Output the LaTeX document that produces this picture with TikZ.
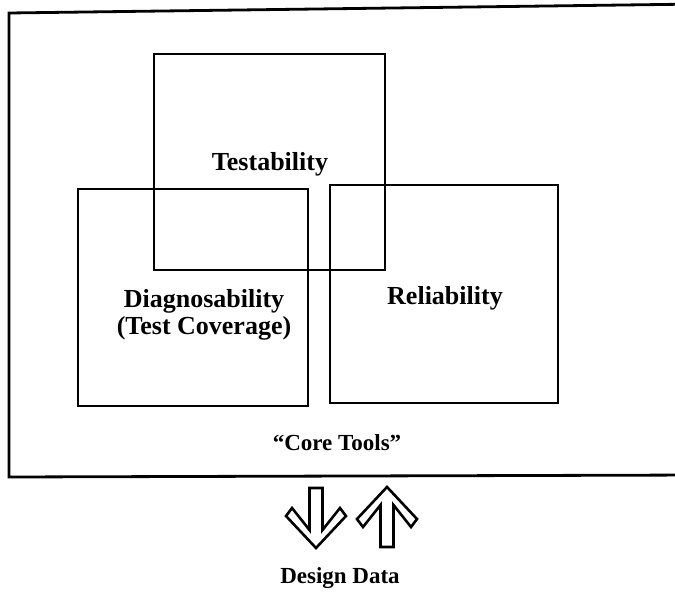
\documentclass[tikz,border=0pt]{standalone}
\usepackage{fontspec}
\setmainfont{Liberation Serif}
\begin{document}
\begin{tikzpicture}[x=1pt,y=-1pt,
  box/.style={draw,line width=2.8pt},
  lbl/.style={font=\fontsize{23}{28}\selectfont\bfseries,align=center,inner sep=0pt},
  blbl/.style={font=\fontsize{26}{27}\selectfont\bfseries,align=center,inner sep=0pt},
  hollow/.style={draw,line width=2.6pt,line join=miter,fill=white}]
\useasboundingbox (0,0) rectangle (675,597);
\clip (0,0) rectangle (675,597);
% outer box
\draw[box] (9,13) -- (700,4) -- (700,475) -- (9,477) -- cycle;
% boxes
\draw[box] (154,54) rectangle (385,270);
\draw[box] (78,189) rectangle (308,406);
\draw[box] (330,185) rectangle (558,403);
% labels
\node[blbl] (test) at (270,164) {Testability};
\node[blbl] (diag) at (204,315) {Diagnosability\\(Test Coverage)};
\node[blbl] (rel) at (445,298) {Reliability};
\node[lbl] (core) at (337,443) {“Core Tools”};
\node[lbl] (dd) at (340,578) {Design Data};
% arrows
\def\cx{316}
\draw[hollow] (\cx-6.5,488) -- (\cx+6.5,488) -- (\cx+6.5,530) -- (\cx+24,508) -- (\cx+30,516) -- (\cx,548) -- (\cx-30,516) -- (\cx-24,508) -- (\cx-6.5,530) -- cycle;
\def\cx{387}
\draw[hollow] (\cx-6.5,547) -- (\cx+6.5,547) -- (\cx+6.5,505) -- (\cx+24,527) -- (\cx+30,519) -- (\cx,487) -- (\cx-30,519) -- (\cx-24,527) -- (\cx-6.5,505) -- cycle;
\end{tikzpicture}
\end{document}
